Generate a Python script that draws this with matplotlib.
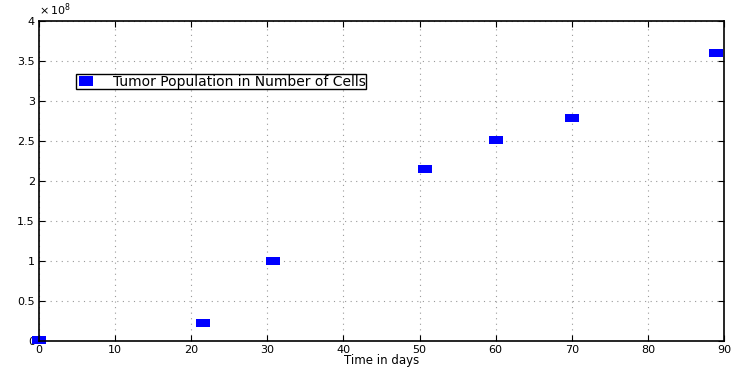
import matplotlib.pyplot as plt
from matplotlib.ticker import FuncFormatter

days = [0, 21.5, 30.8, 50.7, 60, 70, 89]
cells = [0.01e8, 0.22e8, 1.0e8, 2.15e8, 2.51e8, 2.79e8, 3.6e8]
label = 'Tumor Population in Number of Cells'

plt.rcParams['font.family'] = ['DejaVu Sans']
plt.rcParams['font.size'] = 8

fig = plt.figure(figsize=(7.32, 3.70), dpi=100)
ax = fig.add_axes([0.0533, 0.0784, 0.9357, 0.8646])

# wide rectangular marker like the matlab export
rect = [(-1.6, -1), (1.6, -1), (1.6, 1), (-1.6, 1), (-1.6, -1)]
ax.plot(days, cells, linestyle='none', marker=rect, markersize=9.5,
        color='#0000ff', markeredgewidth=0, label=label, clip_on=False)

ax.set_xlim(0, 90)
ax.set_ylim(0, 4e8)
ax.set_xticks(range(0, 91, 10))
ax.set_yticks([i * 0.5e8 for i in range(9)])
ax.yaxis.set_major_formatter(FuncFormatter(lambda v, p: '%g' % (v / 1e8)))
ax.text(0, 1.01, r'$\times\,10^{8}$', transform=ax.transAxes, fontsize=8,
        va='bottom', ha='left')

ax.grid(True, linestyle=(0, (1, 4)), color='#999999', linewidth=0.8)
ax.tick_params(direction='in', top=True, right=True, length=4, width=0.8, pad=3)
for s in ax.spines.values():
    s.set_linewidth(1.2)

ax.set_xlabel('Time in days', labelpad=-1, fontsize=8.5)

ax.legend(loc='upper left', bbox_to_anchor=(0.054, 0.835), fancybox=False,
          edgecolor='black', framealpha=1, handlelength=1.4, borderpad=0.05,
          handletextpad=1.2, borderaxespad=0, numpoints=1, markerscale=1.1,
          fontsize=10)

fig.savefig('out.png', dpi=100)
